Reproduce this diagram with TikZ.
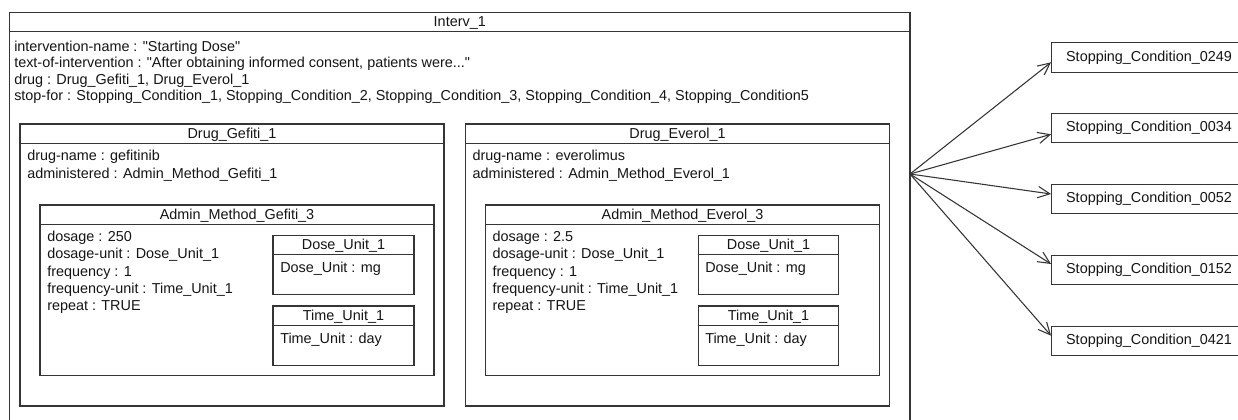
\documentclass[tikz,border=0pt]{standalone}
\usepackage{fontspec}
\newfontfamily\lsans{Liberation Sans}
\usetikzlibrary{arrows.meta,fit}
\newdimen\px \px=0.75pt
\definecolor{lc}{HTML}{353535}
\definecolor{tc}{HTML}{151515}
\newcommand\dgfont{\lsans\fontsize{10.8pt}{12pt}\selectfont}
\begin{document}
\begin{tikzpicture}[x=0.75pt,y=-0.75pt,
  box/.style={draw=lc, line width=0.95pt, inner sep=0pt},
  lbl/.style={anchor=base west, inner sep=0pt, text=tc, font=\dgfont},
  ttl/.style={anchor=base, inner sep=0pt, text=tc, font=\dgfont},
  sep/.style={draw=lc, line width=0.95pt},
  dep/.style={draw=lc, line width=0.8pt, -{Straight Barb[length=9pt,width=8.5pt]}},
  stopbox/.style={box, minimum width=194.6\px, minimum height=29.6\px, text=tc, font=\dgfont}]
\useasboundingbox (0,0) rectangle (1238,420);
\clip (0,0) rectangle (1238,420);
\fill[white] (0,0) rectangle (1238,420);

% outer object
\node[box, fit={(9.5,12.5)(910,432)}] (outer) {};
\draw[sep] ([yshift=-20\px]outer.north west) -- ([yshift=-20\px]outer.north east);
\node[ttl] (outert) at ([yshift=-15\px]outer.north) {Interv\_1};
\node[lbl] (o1) at (14,51.5) {intervention-name : "Starting Dose"};
\node[lbl] (o2) at (14,68) {text-of-intervention : "After obtaining informed consent, patients were..."};
\node[lbl] (o3) at (14,84.5) {drug : Drug\_Gefiti\_1, Drug\_Everol\_1};
\node[lbl] (o4) at (14,101) {stop-for : Stopping\_Condition\_1, Stopping\_Condition\_2, Stopping\_Condition\_3, Stopping\_Condition\_4, Stopping\_Condition5};

% Drug Gefiti
\node[box, fit={(20,124)(444,406)}] (gef) {};
\draw[sep] ([yshift=-20\px]gef.north west) -- ([yshift=-20\px]gef.north east);
\node[ttl] (geft) at ([yshift=-15\px]gef.north) {Drug\_Gefiti\_1};
\node[lbl] (g1) at (27,161) {drug-name : gefitinib};
\node[lbl] (g2) at (27,178.3) {administered : Admin\_Method\_Gefiti\_1};

\node[box, fit={(40,205)(434,375.7)}] (gam) {};
\draw[sep] ([yshift=-20\px]gam.north west) -- ([yshift=-20\px]gam.north east);
\node[ttl] (gamt) at ([yshift=-15\px]gam.north) {Admin\_Method\_Gefiti\_3};
\node[lbl] (ga1) at (47,241.7) {dosage : 250};
\node[lbl] (ga2) at (47,259) {dosage-unit : Dose\_Unit\_1};
\node[lbl] (ga3) at (47,276.2) {frequency : 1};
\node[lbl] (ga4) at (47,293.5) {frequency-unit : Time\_Unit\_1};
\node[lbl] (ga5) at (47,310.7) {repeat : TRUE};

\node[box, fit={(273,235.3)(414,294.3)}] (gdu) {};
\draw[sep] ([yshift=-20\px]gdu.north west) -- ([yshift=-20\px]gdu.north east);
\node[ttl] (gdut) at ([yshift=-15\px]gdu.north) {Dose\_Unit\_1};
\node[lbl] (gdu1) at (280,272.7) {Dose\_Unit : mg};

\node[box, fit={(273,306)(414,365.7)}] (gtu) {};
\draw[sep] ([yshift=-20\px]gtu.north west) -- ([yshift=-20\px]gtu.north east);
\node[ttl] (gtut) at ([yshift=-15\px]gtu.north) {Time\_Unit\_1};
\node[lbl] (gtu1) at (280,343.7) {Time\_Unit : day};

% Drug Everol
\node[box, fit={(465.7,124)(889.3,406)}] (eve) {};
\draw[sep] ([yshift=-20\px]eve.north west) -- ([yshift=-20\px]eve.north east);
\node[ttl] (evet) at ([yshift=-15\px]eve.north) {Drug\_Everol\_1};
\node[lbl] (e1) at (472.3,161) {drug-name : everolimus};
\node[lbl] (e2) at (472.3,178.3) {administered : Admin\_Method\_Everol\_1};

\node[box, fit={(485.7,205)(879.3,375.7)}] (eam) {};
\draw[sep] ([yshift=-20\px]eam.north west) -- ([yshift=-20\px]eam.north east);
\node[ttl] (eamt) at ([yshift=-15\px]eam.north) {Admin\_Method\_Everol\_3};
\node[lbl] (ea1) at (492.3,241.7) {dosage : 2.5};
\node[lbl] (ea2) at (492.3,259) {dosage-unit : Dose\_Unit\_1};
\node[lbl] (ea3) at (492.3,276.2) {frequency : 1};
\node[lbl] (ea4) at (492.3,293.5) {frequency-unit : Time\_Unit\_1};
\node[lbl] (ea5) at (492.3,310.7) {repeat : TRUE};

\node[box, fit={(698.3,235.3)(838.7,294.3)}] (edu) {};
\draw[sep] ([yshift=-20\px]edu.north west) -- ([yshift=-20\px]edu.north east);
\node[ttl] (edut) at ([yshift=-15\px]edu.north) {Dose\_Unit\_1};
\node[lbl] (edu1) at (705,272.7) {Dose\_Unit : mg};

\node[box, fit={(698.3,306)(838.7,365.7)}] (etu) {};
\draw[sep] ([yshift=-20\px]etu.north west) -- ([yshift=-20\px]etu.north east);
\node[ttl] (etut) at ([yshift=-15\px]etu.north) {Time\_Unit\_1};
\node[lbl] (etu1) at (705,343.7) {Time\_Unit : day};

% stopping conditions
\node[stopbox] (s1) at (1149,57.5) {Stopping\_Condition\_0249};
\node[stopbox] (s2) at (1149,128) {Stopping\_Condition\_0034};
\node[stopbox] (s3) at (1149,199) {Stopping\_Condition\_0052};
\node[stopbox] (s4) at (1149,270) {Stopping\_Condition\_0152};
\node[stopbox] (s5) at (1149,341) {Stopping\_Condition\_0421};

\coordinate (fan) at (910,174);
\draw[dep] (fan) -- ([yshift=-4.8\px]s1.west);
\draw[dep] (fan) -- ([yshift=-6.3\px]s2.west);
\draw[dep] (fan) -- ([yshift=5\px]s3.west);
\draw[dep] (fan) -- ([yshift=6\px]s4.west);
\draw[dep] (fan) -- ([yshift=5.3\px]s5.west);
\end{tikzpicture}
\end{document}
